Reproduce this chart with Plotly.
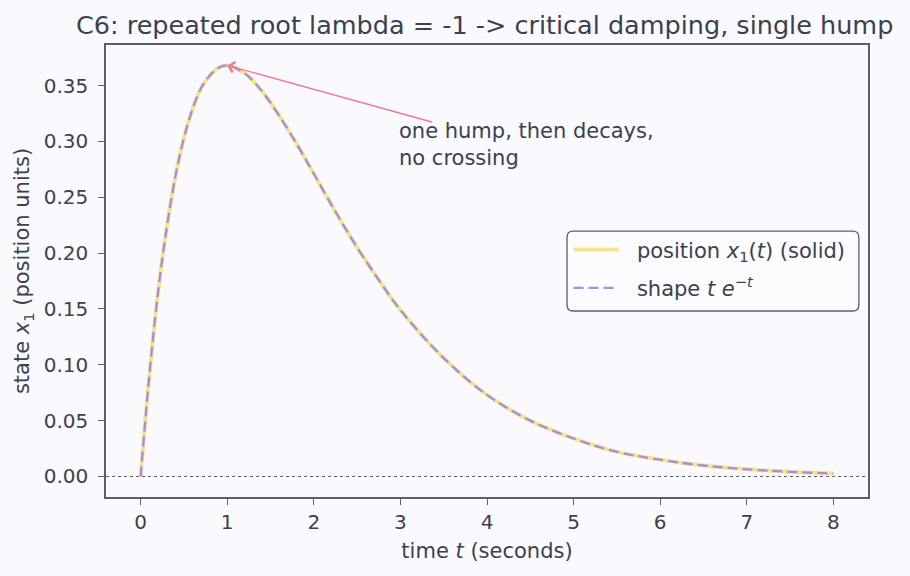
import plotly.graph_objects as go

# ---- data ----
time_s = [0.0, 0.1, 0.2, 0.3, 0.4, 0.5, 0.6, 0.7, 0.8, 0.9, 1.0, 1.2, 1.4, 1.6, 1.8,
          2.0, 2.25, 2.5, 2.75, 3.0, 3.5, 4.0, 4.5, 5.0, 5.5, 6.0, 6.5, 7.0, 7.5, 8.0]
position_x1 = [0.0, 0.090, 0.164, 0.222, 0.268, 0.303, 0.329, 0.348, 0.359, 0.366, 0.368,
               0.361, 0.345, 0.323, 0.298, 0.271, 0.237, 0.205, 0.176, 0.149, 0.106,
               0.073, 0.050, 0.034, 0.022, 0.015, 0.0098, 0.0064, 0.0041, 0.0027]
shape_te = [0.0, 0.090, 0.164, 0.222, 0.268, 0.303, 0.329, 0.348, 0.359, 0.366, 0.368,
            0.361, 0.345, 0.323, 0.298, 0.271, 0.237, 0.205, 0.176, 0.149, 0.106,
            0.073, 0.050, 0.034, 0.022, 0.015, 0.0098, 0.0064, 0.0041, 0.0027]
x_ticks = [0, 1, 2, 3, 4, 5, 6, 7, 8]
y_ticks = [0.00, 0.05, 0.10, 0.15, 0.20, 0.25, 0.30, 0.35]
peak_t, peak_x = 1.0, 0.368
note_xy = (2.965, 0.297)
arrow_tail = (3.38, 0.317)

TEXT = "#3b4150"
SPINE = "#5a5f6b"
BG = "#fafafe"
FONT = "DejaVu Sans"

fig = go.Figure()
fig.add_trace(go.Scatter(
    x=time_s, y=position_x1, mode="lines", line=dict(color="#f8e38c", width=4, shape="spline"),
    name="&nbsp;&nbsp;position <i>x</i><sub>1</sub>(<i>t</i>) (solid)", legendgroup="a"))
fig.add_trace(go.Scatter(
    x=time_s, y=shape_te, mode="lines",
    line=dict(color="#a38ee6", width=2.3, dash="10px,5px", shape="spline"),
    name="&nbsp;&nbsp;shape <i>t e</i><sup>\u2212<i>t</i></sup>", legendgroup="b"))

# dotted zero line
fig.add_shape(type="line", xref="x domain", yref="y", x0=0, x1=1, y0=0, y1=0,
              line=dict(color="#555a63", width=1, dash="dot"), layer="below")

# legend frame (rounded)
lx0, lx1, ly0, ly1, r = 0.605, 0.988, 0.4115, 0.588, 0.008
ry = r * 762 / 452
fig.add_shape(type="path", xref="paper", yref="paper",
              path=(f"M{lx0+r},{ly0} L{lx1-r},{ly0} Q{lx1},{ly0} {lx1},{ly0+ry} "
                    f"L{lx1},{ly1-ry} Q{lx1},{ly1} {lx1-r},{ly1} L{lx0+r},{ly1} "
                    f"Q{lx0},{ly1} {lx0},{ly1-ry} L{lx0},{ly0+ry} Q{lx0},{ly0} {lx0+r},{ly0} Z"),
              line=dict(color=SPINE, width=1.3), fillcolor="rgba(252,252,255,0.9)", layer="above")

fig.add_annotation(x=peak_t, y=peak_x, ax=arrow_tail[0], ay=arrow_tail[1], axref="x", ayref="y",
                   xref="x", yref="y", text="", showarrow=True, arrowhead=4, arrowsize=1.5,
                   arrowwidth=1.4, arrowcolor="#ee7b8b", standoff=0)
fig.add_annotation(x=note_xy[0], y=note_xy[1], xref="x", yref="y",
                   text="one hump, then decays,<br>no crossing", showarrow=False,
                   xanchor="left", yanchor="middle", align="left",
                   font=dict(family=FONT, size=21, color=TEXT))

fig.update_layout(
    width=910, height=576,
    margin=dict(l=106, r=42, t=45, b=79),
    paper_bgcolor=BG, plot_bgcolor=BG,
    font=dict(family=FONT, size=20, color=TEXT),
    title=dict(text="C6: repeated root lambda = -1 -> critical damping, single hump",
               x=0.5326, xanchor="center", y=0.9566, yanchor="middle",
               font=dict(family=FONT, size=25.5, color=TEXT)),
    showlegend=True,
    legend=dict(x=0.607, y=0.592, xanchor="left", yanchor="top", bgcolor="rgba(0,0,0,0)",
                borderwidth=0, font=dict(family=FONT, size=21, color=TEXT),
                itemwidth=45, traceorder="grouped", tracegroupgap=8),
)
fig.update_xaxes(range=[-0.4, 8.4], tickvals=x_ticks, ticktext=[str(v) for v in x_ticks],
                 showgrid=False, zeroline=False, showline=True, mirror=True,
                 linecolor=SPINE, linewidth=1.5, ticks="outside", ticklen=6, tickwidth=1.4,
                 tickcolor=SPINE, tickfont=dict(family=FONT, size=20, color=TEXT),
                 title=dict(text="time <i>t</i> (seconds)", standoff=11,
                            font=dict(family=FONT, size=21, color=TEXT)))
fig.update_yaxes(range=[-0.0184, 0.3863], tickvals=y_ticks, ticktext=[f"{v:.2f}" for v in y_ticks],
                 showgrid=False, zeroline=False, showline=True, mirror=True,
                 linecolor=SPINE, linewidth=1.5, ticks="outside", ticklen=6, tickwidth=1.4,
                 tickcolor=SPINE, tickfont=dict(family=FONT, size=20, color=TEXT),
                 ticklabelstandoff=6,
                 title=dict(text="state <i>x</i><sub>1</sub> (position units)", standoff=8,
                            font=dict(family=FONT, size=21, color=TEXT)))

fig.write_html("out.html")
